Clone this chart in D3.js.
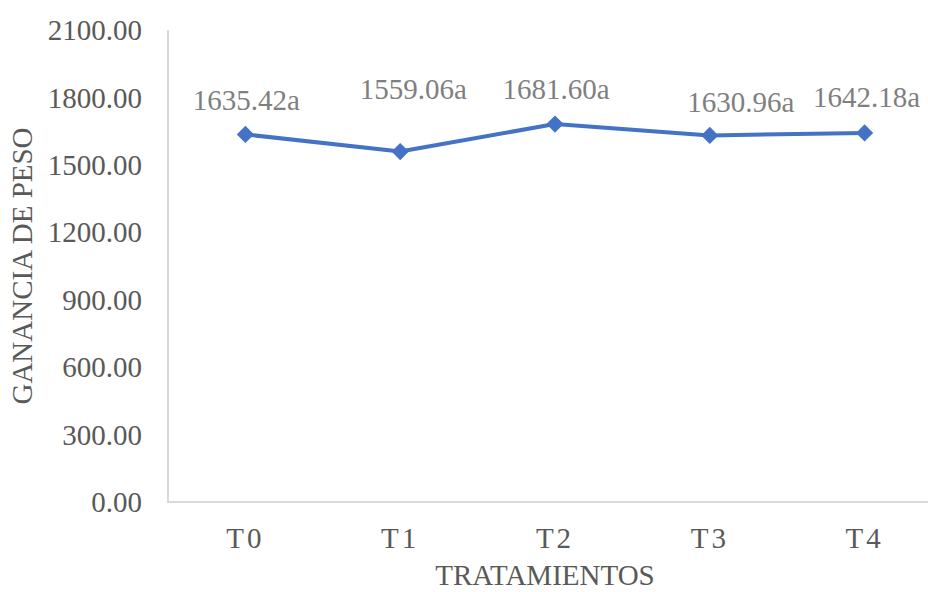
<!DOCTYPE html>
<html><head><meta charset="utf-8">
<script src="https://cdn.jsdelivr.net/npm/d3@7"></script>
<style>body{margin:0;background:#fff}svg{display:block}</style>
</head><body>
<script>
const categories = ["T0","T1","T2","T3","T4"];
const values = [1635.42, 1559.06, 1681.60, 1630.96, 1642.18];
const labels = ["1635.42a","1559.06a","1681.60a","1630.96a","1642.18a"];
const yTicks = [0,300,600,900,1200,1500,1800,2100];
// label offsets (dx, dy of baseline relative to marker)
const labelDx = [1, 13, 1, 31, 2];
const labelDy = [-24, -53, -25, -23, -26];

const W = 928, H = 592;
const svg = d3.select("body").append("svg").attr("width", W).attr("height", H);
const font = "'Liberation Serif','Times New Roman',serif";
const FS = 29;

const x = d3.scaleBand().domain(categories).range([168, 942]);
const y = d3.scaleLinear().domain([0, 2100]).range([502, 30]);

// axes lines
svg.append("line").attr("x1",168).attr("x2",168).attr("y1",y(2100)).attr("y2",y(0))
  .attr("stroke","#d9d9d9").attr("stroke-width",2);
svg.append("line").attr("x1",167).attr("x2",942).attr("y1",y(0)).attr("y2",y(0))
  .attr("stroke","#d9d9d9").attr("stroke-width",2);

// y tick labels
const yAxis = d3.axisLeft(y).tickValues(yTicks).tickFormat(d3.format(".2f")).tickSize(0).tickPadding(0);
const gy = svg.append("g").attr("transform","translate(142,0)").call(yAxis);
gy.select(".domain").remove();
gy.selectAll("text").attr("font-family",font).attr("font-size",FS).attr("fill","#595959").attr("dy","0.33em");

// x tick labels
const xAxis = d3.axisBottom(x).tickSize(0).tickPadding(0);
const gx = svg.append("g").attr("transform","translate(0,548)").call(xAxis);
gx.select(".domain").remove();
gx.selectAll("text").attr("font-family",font).attr("font-size",FS).attr("fill","#595959")
  .attr("dy",0).attr("letter-spacing","3px");

// line
const cx = (d,i) => x(categories[i]) + x.bandwidth()/2;
const line = d3.line().x((d,i)=>cx(d,i)).y(d=>y(d));
svg.append("path").datum(values).attr("d",line).attr("fill","none")
  .attr("stroke","#4472c4").attr("stroke-width",4).attr("stroke-linejoin","round");

// markers
svg.selectAll(".m").data(values).enter().append("path")
  .attr("d", d3.symbol().type(d3.symbolDiamond2).size(190))
  .attr("transform",(d,i)=>`translate(${cx(d,i)},${y(d)})`)
  .attr("fill","#4472c4");

// data labels
svg.selectAll(".lbl").data(values).enter().append("text")
  .attr("x",(d,i)=>cx(d,i)+labelDx[i]).attr("y",(d,i)=>y(d)+labelDy[i])
  .attr("text-anchor","middle").attr("font-family",font).attr("font-size",FS)
  .attr("fill","#7f7f7f").text((d,i)=>labels[i]);

// axis titles
svg.append("text").attr("x",545).attr("y",585).attr("text-anchor","middle")
  .attr("font-family",font).attr("font-size",FS).attr("fill","#595959").text("TRATAMIENTOS");
svg.append("text").attr("transform","translate(32,266) rotate(-90)").attr("text-anchor","middle")
  .attr("font-family",font).attr("font-size",FS).attr("fill","#595959").text("GANANCIA DE PESO");
</script>
</body></html>
